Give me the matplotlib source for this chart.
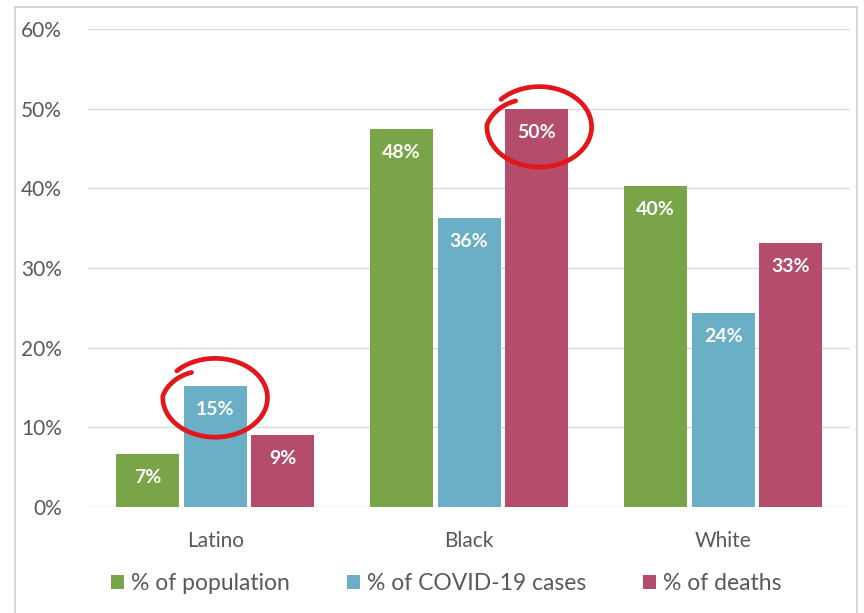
import numpy as np
import matplotlib
matplotlib.use('Agg')
import matplotlib.pyplot as plt
from matplotlib.patches import Rectangle

plt.rcParams['font.family'] = ['Lato', 'DejaVu Sans']

# data
groups = ['Latino', 'Black', 'White']
series = ['% of population', '% of COVID-19 cases', '% of deaths']
population = [6.7, 47.4, 40.3]
cases = [15.2, 36.3, 24.3]
deaths = [9.0, 50.0, 33.1]
pop_labels = ['7%', '48%', '40%']
case_labels = ['15%', '36%', '24%']
death_labels = ['9%', '50%', '33%']
colors = ['#79a548', '#6aafc6', '#b44c6c']

fig = plt.figure(figsize=(8.64, 6.13), dpi=100)
ax = fig.add_axes([0.102, 0.173, 0.882, 0.78])

x = np.arange(len(groups))
w = 0.248
off = 0.266
data = [population, cases, deaths]
labels = [pop_labels, case_labels, death_labels]
for i, (vals, labs) in enumerate(zip(data, labels)):
    bars = ax.bar(x + (i - 1) * off, vals, w, color=colors[i], label=series[i], zorder=2)
    for b, lab in zip(bars, labs):
        ax.annotate(lab, (b.get_x() + b.get_width() / 2, b.get_height()),
                    xytext=(0, -17), textcoords='offset points',
                    ha='center', va='center', color='white',
                    fontsize=14, fontweight='bold', zorder=3)

ax.set_xlim(-0.5, 2.5)
ax.set_ylim(0, 60)
ax.set_yticks(range(0, 61, 10))
ax.set_yticklabels([f'{v}%' for v in range(0, 61, 10)])
ax.set_xticks(x)
ax.set_xticklabels(groups)
ax.tick_params(length=0, labelsize=15, labelcolor='#595959')
ax.tick_params(axis='y', pad=19)
ax.tick_params(axis='x', pad=17)
ax.yaxis.grid(True, color='#d9d9d9', linewidth=1, zorder=0)
ax.set_axisbelow(True)
for s in ax.spines.values():
    s.set_visible(False)

# red hand-drawn circles
def scribble(cx, cy, rx, ry):
    t = np.linspace(np.deg2rad(125), np.deg2rad(125 + 372), 220)
    frac = (t - t[0]) / (t[-1] - t[0])
    r = 1.03 - 0.22 * np.clip(1 - frac / 0.14, 0, 1)
    ax.plot(cx + rx * r * np.cos(t), cy + ry * r * np.sin(t),
            color='#e3161b', linewidth=3.4, zorder=4, clip_on=False,
            solid_capstyle='round')

scribble(x[0], cases[0] - 1.5, 0.2, 4.8)
scribble(x[1] + off + 0.01, deaths[1] - 2.3, 0.2, 4.9)

leg = ax.legend(loc='upper center', bbox_to_anchor=(0.47, -0.095), ncol=3,
                frameon=False, fontsize=16.5, handlelength=0.55, handleheight=0.55,
                handletextpad=0.3, columnspacing=2.5)
for t in leg.get_texts():
    t.set_color('#595959')

fig.patches.append(Rectangle((0.017, -0.01), 0.975, 0.999, transform=fig.transFigure,
                             fill=False, edgecolor='#d0d0d0', linewidth=1.2))

fig.savefig('out.png', dpi=100)
